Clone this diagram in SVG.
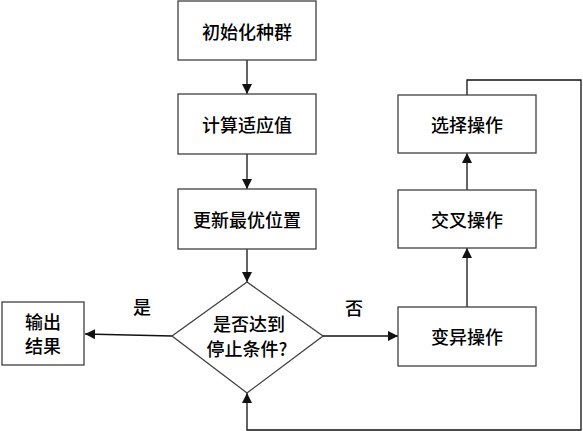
<svg xmlns="http://www.w3.org/2000/svg" width="583" height="431" viewBox="0 0 583 431">
<style>
.box{fill:#fff;stroke:#404040;stroke-width:1.3}
.t{font-family:"Noto Sans CJK SC","Noto Sans",sans-serif;font-size:18px;font-weight:500;fill:#000;text-anchor:middle;dominant-baseline:central}
.c{fill:none;stroke:#111;stroke-width:1.3}
</style>
<defs>
<marker id="ah2" viewBox="0 0 10 10" refX="10" refY="5" markerWidth="14" markerHeight="10" markerUnits="userSpaceOnUse" orient="auto"><path d="M0,0 L10,5 L0,10 z" fill="#111"/></marker>
</defs>
<rect width="583" height="431" fill="#fff"/>
<g id="connectors">
<line class="c" x1="247" y1="60" x2="247" y2="94" marker-end="url(#ah2)"/>
<line class="c" x1="247" y1="154" x2="247" y2="189" marker-end="url(#ah2)"/>
<line class="c" x1="247" y1="249" x2="247" y2="282" marker-end="url(#ah2)"/>
<line class="c" x1="172" y1="336" x2="85" y2="334" marker-end="url(#ah2)"/>
<line class="c" x1="323" y1="336" x2="398" y2="336" marker-end="url(#ah2)"/>
<line class="c" x1="467" y1="307" x2="467" y2="248" marker-end="url(#ah2)"/>
<line class="c" x1="467" y1="190" x2="467" y2="153" marker-end="url(#ah2)"/>
<polyline class="c" points="467,95 467,80 581,80 581,430 247,430 247,393" marker-end="url(#ah2)"/>
<text class="t" x="142" y="306">是</text>
<text class="t" x="354" y="307">否</text>
</g>
<g id="n1"><rect class="box" x="178" y="1" width="138" height="59"/><text class="t" x="247" y="31">初始化种群</text></g>
<g id="n2"><rect class="box" x="178" y="94" width="138" height="60"/><text class="t" x="247" y="124">计算适应值</text></g>
<g id="n3"><rect class="box" x="178" y="189" width="138" height="60"/><text class="t" x="247" y="219">更新最优位置</text></g>
<g id="n4"><polygon class="box" points="247,282 323,336 247,393 172,336"/><text class="t" x="249" y="323">是否达到</text><text class="t" x="247" y="348">停止条件?</text></g>
<g id="n5"><rect class="box" x="2" y="302" width="82" height="63"/><text class="t" x="43" y="321">输出</text><text class="t" x="43" y="345">结果</text></g>
<g id="n6"><rect class="box" x="398" y="95" width="138" height="58"/><text class="t" x="467" y="124">选择操作</text></g>
<g id="n7"><rect class="box" x="398" y="190" width="138" height="58"/><text class="t" x="467" y="219">交叉操作</text></g>
<g id="n8"><rect class="box" x="398" y="307" width="138" height="59"/><text class="t" x="467" y="336">变异操作</text></g>
</svg>
